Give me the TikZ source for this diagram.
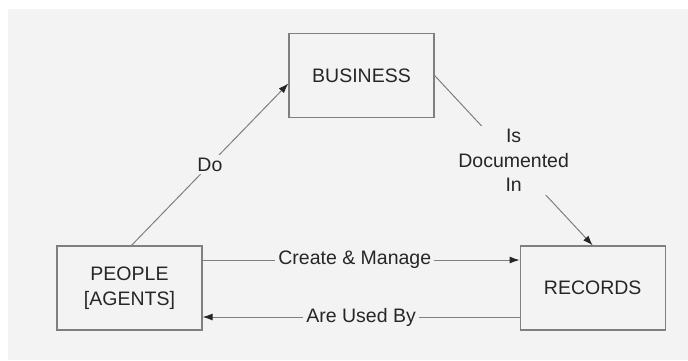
\documentclass[tikz,border=0pt]{standalone}
\usepackage{fontspec}
\setmainfont{Liberation Sans}
\usetikzlibrary{arrows.meta,positioning}

\definecolor{paper}{HTML}{F3F3F3}
\definecolor{boxline}{HTML}{7F7F7F}
\definecolor{ink}{HTML}{262626}

\tikzset{
  entity/.style={rectangle, draw=boxline, line width=1.2pt, minimum width=145pt, minimum height=84pt, align=center, text=ink},
  relation/.style={draw=boxline, line width=1pt, -{Latex[length=10pt,width=7pt,color=black!85]}},
  rellabel/.style={fill=paper, inner sep=3pt, align=center, text=ink}
}

\begin{document}
\begin{tikzpicture}[x=1pt, y=-1pt, font=\fontsize{19.5}{24.5}\selectfont]
	\useasboundingbox (0,0) rectangle (688,360);
	\fill[white] (0,0) rectangle (688,360);
	\fill[paper] (8,9) rectangle (688,360); % scanned page

	\node[entity] (business) at (361.5,75.5) {BUSINESS};
	\node[entity] (people) at (129.5,288) {PEOPLE\\{[AGENTS]}};
	\node[entity, right=317pt of people] (records) {RECORDS};

	\draw[relation] ([xshift=2pt]people.north) -- node[rellabel] {Do} ([yshift=-8pt]business.west);
	\draw[relation] (business.east) -- node[rellabel] {Is\\Documented\\In} (records.north);
	\draw[relation] ([yshift=28pt]people.east) -- node[rellabel, pos=0.48] {Create \& Manage} ([yshift=28pt]records.west);
	\draw[relation] ([yshift=-29pt]records.west) -- node[rellabel] {Are Used By} ([yshift=-29pt]people.east);
\end{tikzpicture}
\end{document}
